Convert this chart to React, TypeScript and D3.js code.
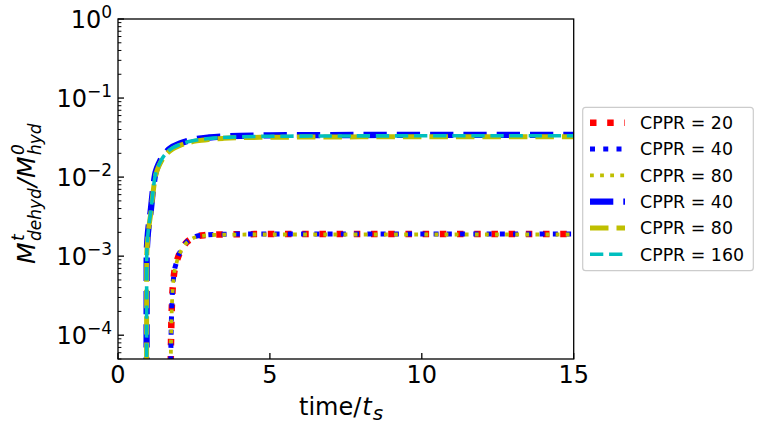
import React from 'react';
import * as d3 from 'd3';

// ---- data ----
const timeFast = [0.94, 0.945, 0.97, 1.02, 1.076, 1.14, 1.22, 1.3, 1.38, 1.48, 1.6, 1.8, 2.04, 2.3, 2.59, 3.0, 3.47, 4.0, 5.0, 6.0, 8.0, 10.0, 12.0, 15.0];
const dashCppr40 = [1e-5, 1.05e-3, 1.65e-3, 2.6e-3, 3.7e-3, 6.3e-3, 1.07e-2, 1.35e-2, 1.58e-2, 1.84e-2, 2.1e-2, 2.42e-2, 2.67e-2, 2.88e-2, 3.04e-2, 3.17e-2, 3.26e-2, 3.32e-2, 3.37e-2, 3.39e-2, 3.41e-2, 3.42e-2, 3.42e-2, 3.42e-2];
const dashCppr80 = [1e-5, 0.95e-3, 1.5e-3, 2.4e-3, 3.4e-3, 5.7e-3, 9.8e-3, 1.25e-2, 1.47e-2, 1.72e-2, 1.97e-2, 2.28e-2, 2.52e-2, 2.72e-2, 2.87e-2, 3.0e-2, 3.09e-2, 3.15e-2, 3.19e-2, 3.21e-2, 3.23e-2, 3.24e-2, 3.24e-2, 3.24e-2];
const dashCppr160 = [1e-5, 1.0e-3, 1.58e-3, 2.5e-3, 3.57e-3, 6.0e-3, 1.03e-2, 1.3e-2, 1.52e-2, 1.78e-2, 2.04e-2, 2.35e-2, 2.59e-2, 2.8e-2, 2.95e-2, 3.08e-2, 3.17e-2, 3.23e-2, 3.28e-2, 3.3e-2, 3.32e-2, 3.33e-2, 3.33e-2, 3.33e-2];

const timeSlow = [1.725, 1.735, 1.745, 1.77, 1.84, 1.93, 2.04, 2.15, 2.26, 2.4, 2.59, 2.9, 3.25, 3.8, 4.5, 6.0, 8.0, 10.0, 12.0, 15.0];
const dotCppr20 = [1e-5, 4e-5, 8.3e-5, 2.16e-4, 5.7e-4, 8.4e-4, 1.12e-3, 1.33e-3, 1.5e-3, 1.65e-3, 1.78e-3, 1.85e-3, 1.88e-3, 1.89e-3, 1.9e-3, 1.9e-3, 1.9e-3, 1.9e-3, 1.9e-3, 1.9e-3];
const dotCppr40 = [1e-5, 4.2e-5, 8.6e-5, 2.2e-4, 5.8e-4, 8.5e-4, 1.13e-3, 1.34e-3, 1.51e-3, 1.66e-3, 1.79e-3, 1.86e-3, 1.89e-3, 1.9e-3, 1.9e-3, 1.91e-3, 1.91e-3, 1.91e-3, 1.91e-3, 1.91e-3];
const dotCppr80 = [1e-5, 3.9e-5, 8.0e-5, 2.1e-4, 5.6e-4, 8.3e-4, 1.1e-3, 1.31e-3, 1.48e-3, 1.63e-3, 1.76e-3, 1.83e-3, 1.86e-3, 1.87e-3, 1.88e-3, 1.88e-3, 1.88e-3, 1.88e-3, 1.88e-3, 1.88e-3];

const legendLabels = ['CPPR = 20', 'CPPR = 40', 'CPPR = 80', 'CPPR = 40', 'CPPR = 80', 'CPPR = 160'];
const xTicks = [0, 5, 10, 15];
const yTickExponents = [0, -1, -2, -3, -4];

// ---- styles ----
const seriesStyles = [
  { color: '#ff0000', width: 6.5, dash: '6.5 10.7' },
  { color: '#0000ff', width: 5, dash: '5 8.25' },
  { color: '#bfbf00', width: 3.8, dash: '3.8 6.3' },
  { color: '#0000ff', width: 6.3, dash: '23.3 10' },
  { color: '#bfbf00', width: 5, dash: '18.5 8' },
  { color: '#00bfbf', width: 3.6, dash: '13.3 5.8' },
];

const W = 763;
const H = 430;
const left = 118;
const right = 573.7;
const top = 19;
const bottom = 359;
const FONT = 'DejaVu Sans';

export default function App() {
  const x = d3.scaleLinear().domain([0, 15]).range([left, right]);
  const y = d3.scaleLog().domain([5e-5, 1]).range([bottom, top]);

  const series = [
    { t: timeSlow, v: dotCppr20 },
    { t: timeSlow, v: dotCppr40 },
    { t: timeSlow, v: dotCppr80 },
    { t: timeFast, v: dashCppr40 },
    { t: timeFast, v: dashCppr80 },
    { t: timeFast, v: dashCppr160 },
  ];

  const line = d3
    .line<[number, number]>()
    .x((d) => x(d[0]))
    .y((d) => y(Math.max(d[1], 1e-6)))
    .curve(d3.curveMonotoneX);

  const minorTicks: number[] = [];
  for (let e = -5; e < 0; e++) {
    for (let m = 2; m <= 9; m++) {
      const v = m * Math.pow(10, e);
      if (v >= 5e-5 && v <= 1) minorTicks.push(v);
    }
  }

  const legX = 582.7;
  const legY = 107.3;
  const legW = 170.6;
  const legH = 163.4;
  const rowY0 = 122.7;
  const rowStep = 26.3;

  return (
    <svg
      width={W}
      height={H}
      style={{ position: 'absolute', left: 0, top: 0, background: '#fff' }}
      fontFamily={FONT}
    >
      <defs>
        <clipPath id="plotclip">
          <rect x={left} y={top} width={right - left} height={bottom - top} />
        </clipPath>
      </defs>
      <rect x={0} y={0} width={W} height={H} fill="#fff" />

      {/* series */}
      <g clipPath="url(#plotclip)">
        {series.map((s, i) => {
          const pts = s.t.map((t, k) => [t, s.v[k]] as [number, number]);
          const st = seriesStyles[i];
          return (
            <path
              key={i}
              d={line(pts) || ''}
              fill="none"
              stroke={st.color}
              strokeWidth={st.width}
              strokeDasharray={st.dash}
              strokeLinecap="butt"
              strokeLinejoin="round"
            />
          );
        })}
      </g>

      {/* frame */}
      <rect x={left} y={top} width={right - left} height={bottom - top} fill="none" stroke="#000" strokeWidth={1.3} />

      {/* x ticks */}
      {xTicks.map((t) => (
        <g key={'xt' + t}>
          <line x1={x(t)} x2={x(t)} y1={bottom} y2={bottom - 6} stroke="#000" strokeWidth={1.3} />
          <text x={x(t)} y={383} fontSize={24} textAnchor="middle" fill="#000">
            {t}
          </text>
        </g>
      ))}

      {/* y ticks */}
      {yTickExponents.map((e) => (
        <g key={'yt' + e}>
          <line x1={left} x2={left + 6} y1={y(Math.pow(10, e))} y2={y(Math.pow(10, e))} stroke="#000" strokeWidth={1.3} />
          <text x={112} y={y(Math.pow(10, e)) + 9} fontSize={24} textAnchor="end" fill="#000">
            10
            <tspan fontSize={17} dy={-10}>
              {e === 0 ? '0' : '\u2212' + Math.abs(e)}
            </tspan>
          </text>
        </g>
      ))}
      {minorTicks.map((v, i) => (
        <line key={'mt' + i} x1={left} x2={left + 3.4} y1={y(v)} y2={y(v)} stroke="#000" strokeWidth={1} />
      ))}

      {/* x label */}
      <text x={299} y={415} fontSize={24} textAnchor="start" fill="#000">
        time/
        <tspan fontStyle="italic" dx={1}>t</tspan>
        <tspan fontStyle="italic" fontSize={20} dx={1} dy={5}>
          s
        </tspan>
      </text>

      {/* y label */}
      <g transform={`translate(35, 186) rotate(-90)`}>
        <text x={-78} y={0} fontSize={25} fontStyle="italic" fill="#000">
          M
        </text>
        <text x={-55} y={-11} fontSize={17} fontStyle="italic" fill="#000">
          t
        </text>
        <text x={-55} y={6} fontSize={17} fontStyle="italic" fill="#000">
          dehyd
        </text>
        <text x={-1} y={0} fontSize={25} fontStyle="italic" fill="#000">
          /
        </text>
        <text x={8} y={0} fontSize={25} fontStyle="italic" fill="#000">
          M
        </text>
        <text x={31} y={-11} fontSize={17} fontStyle="italic" fill="#000">
          0
        </text>
        <text x={31} y={6} fontSize={17} fontStyle="italic" fill="#000">
          hyd
        </text>
      </g>

      {/* legend */}
      <rect x={legX} y={legY} width={legW} height={legH} rx={3} ry={3} fill="#fff" fillOpacity={0.8} stroke="#cccccc" strokeWidth={1.2} />
      {legendLabels.map((lab, i) => {
        const st = seriesStyles[i];
        const ry = rowY0 + i * rowStep;
        return (
          <g key={'lg' + i}>
            <line x1={590} x2={625} y1={ry} y2={ry} stroke={st.color} strokeWidth={st.width} strokeDasharray={st.dash} strokeLinecap="butt" />
            <text x={640} y={ry + 6.3} fontSize={17.4} fill="#000">
              {lab}
            </text>
          </g>
        );
      })}
    </svg>
  );
}
